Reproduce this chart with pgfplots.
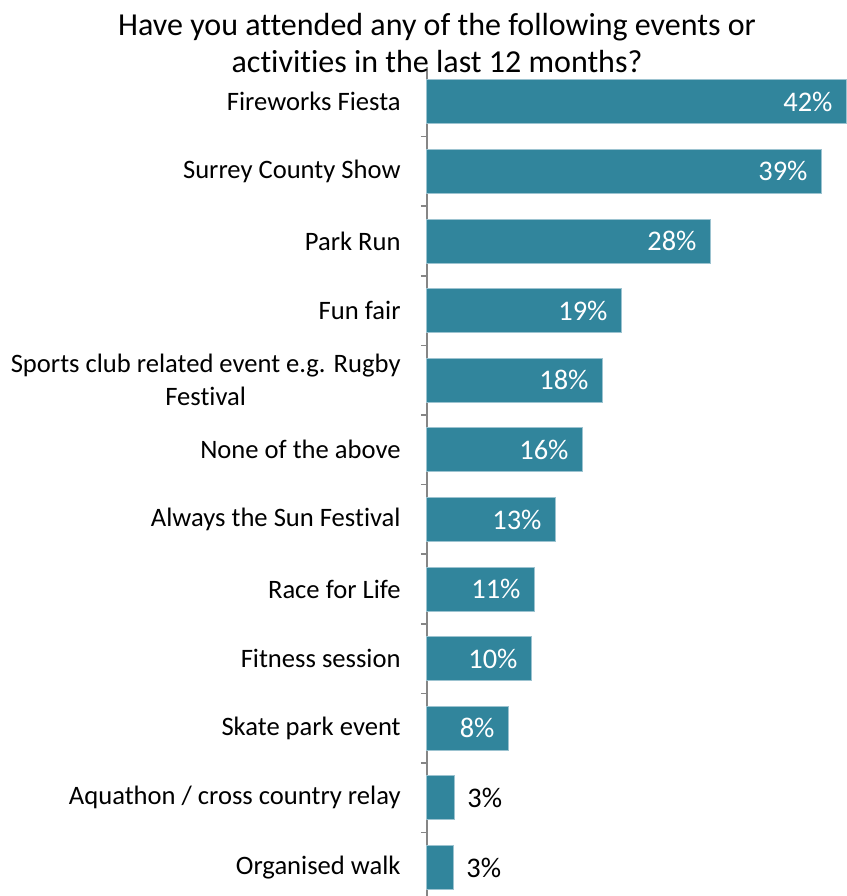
\documentclass[border=0pt]{standalone}
\usepackage{fontspec}
\setmainfont{Carlito}[Ligatures=CommonOff]
\usepackage{pgfplots}
\pgfplotsset{compat=1.18}
\usepackage{pgfplotstable}

\definecolor{barteal}{HTML}{31859C}
\definecolor{baredge}{HTML}{9CC3D0}
\definecolor{axisgray}{HTML}{868686}

% bars with the label inside the bar end
\pgfplotstableread{
idx val  lab
0   42.0 42
1   39.5 39
2   28.4 28
3   19.5 19
4   17.6 18
5   15.6 16
6   12.9 13
7   10.8 11
8   10.5 10
9   8.2  8
}\bigbars
% short bars, label outside
\pgfplotstableread{
idx val lab
10  2.8 3
11  2.7 3
}\smallbars

\begin{document}
\begin{tikzpicture}
\begin{axis}[
    xbar,
    scale only axis,
    width=210pt, height=414.5pt,
    xmin=0, xmax=42,
    ymin=-0.5, ymax=11.41,
    y dir=reverse,
    axis x line=none,
    axis y line*=left,
    axis line style={axisgray, line width=0.75pt},
    ytick={0,...,11},
    yticklabels={Fireworks Fiesta, Surrey County Show, Park Run, Fun fair,
        {Sports club related event e.g. Rugby\\Festival}, None of the above,
        Always the Sun Festival, Race for Life, Fitness session,
        Skate park event, Aquathon / cross country relay, Organised walk},
    major tick length=0pt,
    minor ytick={0.5,1.5,...,10.5},
    minor tick length=3pt,
    tick align=outside,
    minor tick style={axisgray, line width=0.75pt},
    yticklabel style={font=\fontsize{13.3}{16.5}\selectfont, align=center,
        inner sep=0pt, xshift=-13pt},
    bar width=22pt,
    bar shift=0pt,
    clip=false,
    point meta=explicit symbolic,
    nodes near coords={\pgfplotspointmeta\%},
    title={Have you attended any of the following events or\\activities in the last 12 months?},
    title style={font=\fontsize{16}{18.5}\selectfont, align=center,
        at={(axis description cs:0.024,1)}, anchor=south, inner sep=0pt, yshift=-9pt},
]
\addplot[fill=barteal, draw=baredge, line width=0.5pt,
    nodes near coords style={white, anchor=east, inner sep=0pt, xshift=-7pt,
        font=\fontsize{14.2}{16}\selectfont}]
    table[x=val, y=idx, meta=lab] {\bigbars};
\addplot[fill=barteal, draw=baredge, line width=0.5pt,
    nodes near coords style={black, anchor=west, inner sep=0pt, xshift=6pt,
        font=\fontsize{14.2}{16}\selectfont}]
    table[x=val, y=idx, meta=lab] {\smallbars};
\coordinate (bl) at (axis description cs:0,0);
\end{axis}
\pgfresetboundingbox
\path[use as bounding box] (bl) ++(-213.5pt,0pt) rectangle ++(423.5pt,448pt);
\end{tikzpicture}
\end{document}
